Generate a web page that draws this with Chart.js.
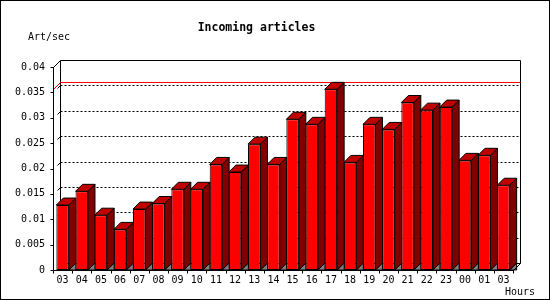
<!DOCTYPE html>
<html>
<head>
<meta charset="utf-8">
<script src="https://cdn.jsdelivr.net/npm/chart.js@4.4.0/dist/chart.umd.min.js"></script>
<style>
  body { margin: 0; background: #fff; }
  canvas { display: block; }
</style>
</head>
<body>
<canvas id="chart" width="550" height="300"></canvas>
<script>
// hour labels along the x axis (last one really says 03 in the original)
const hours = ['03', '04', '05', '06', '07', '08', '09', '10', '11', '12', '13', '14',
               '15', '16', '17', '18', '19', '20', '21', '22', '23', '00', '01', '03'];

// incoming articles per second
const artPerSec = [0.0128, 0.0155, 0.0108, 0.0080, 0.0120, 0.0131, 0.0159, 0.0159,
                   0.0208, 0.0193, 0.0248, 0.0208, 0.0297, 0.0287, 0.0356, 0.0212,
                   0.0287, 0.0277, 0.0330, 0.0315, 0.0321, 0.0216, 0.0226, 0.0167];

const yTickLabels = ['0', '0.005', '0.01', '0.015', '0.02', '0.025', '0.03', '0.035', '0.04'];

const FONT = 'DejaVu Sans Mono';
const DX = 7, DY = 7; // 3d depth offset

const line = (ctx, x1, y1, x2, y2) => {
  ctx.beginPath();
  ctx.moveTo(x1, y1);
  ctx.lineTo(x2, y2);
  ctx.stroke();
};

const poly = (ctx, pts, fill) => {
  ctx.beginPath();
  ctx.moveTo(pts[0][0], pts[0][1]);
  pts.slice(1).forEach(p => ctx.lineTo(p[0], p[1]));
  ctx.closePath();
  ctx.fillStyle = fill;
  ctx.fill();
  ctx.stroke();
};

const bars3d = {
  id: 'bars3d',
  beforeDraw(chart) {
    const ctx = chart.ctx;
    ctx.save();
    ctx.fillStyle = '#fff';
    ctx.fillRect(0, 0, chart.width, chart.height);
    ctx.restore();
  },
  beforeDatasetsDraw(chart) {
    const { ctx, chartArea: a, scales: { y } } = chart;
    const bl = a.left + DX + 0.5, bt = a.top - DY + 0.5;
    const br = a.right + DX + 0.5, bb = a.bottom - DY + 0.5;
    ctx.save();
    ctx.lineWidth = 1;
    ctx.strokeStyle = '#000';

    // dotted grid on the back wall
    ctx.setLineDash([2, 2]);
    y.ticks.forEach(t => {
      if (t.value <= 0 || t.value >= y.max - 1e-9) return;
      const py = Math.round(y.getPixelForValue(t.value)) - DY + 0.5;
      line(ctx, bl, py, br, py);
    });
    ctx.setLineDash([]);

    // back wall frame
    line(ctx, bl, bt, br, bt);
    line(ctx, bl, bt, bl, bb);
    line(ctx, br, bt, br, bb);
    line(ctx, bl, bb, br, bb);

    // small slanted marks from front axis to back wall
    y.ticks.forEach(t => {
      if (t.value <= 0 || t.value >= y.max - 1e-9) return;
      const py = Math.round(y.getPixelForValue(t.value)) + 0.5;
      line(ctx, bl - 3, py - DY + 3, bl, py - DY);
    });

    // max line in red
    const maxVal = Math.max(...artPerSec);
    const my = Math.round(y.getPixelForValue(maxVal)) + 0.5;
    ctx.strokeStyle = '#ff0000';
    line(ctx, a.left + 0.5, my, bl, my - DY);
    line(ctx, bl, my - DY, br, my - DY);
    ctx.restore();
  },
  afterDatasetsDraw(chart) {
    const { ctx, chartArea: a, scales: { y } } = chart;
    const meta = chart.getDatasetMeta(0);
    ctx.save();
    ctx.lineWidth = 1;
    ctx.strokeStyle = '#000';

    meta.data.forEach(bar => {
      const p = bar.getProps(['x', 'y', 'base', 'width'], true);
      const L = p.x - p.width / 2, R = p.x + p.width / 2;
      const top = p.y, base = p.base;
      // floor peeking out under the side
      poly(ctx, [[R, base], [R + DX, base - DY], [R + DX, base]], '#808080');
      // side face
      poly(ctx, [[R, top], [R + DX, top - DY], [R + DX, base - DY], [R, base]], '#800000');
      // top face
      poly(ctx, [[L, top], [L + DX, top - DY], [R + DX, top - DY], [R, top]], '#c00000');
    });

    // front axes
    const fx = a.left + 0.5, fb = a.bottom + 0.5;
    line(ctx, fx, a.top, fx, fb);
    line(ctx, fx, fb, a.right + 0.5, fb);
    // top-left and bottom-right corners of the box
    line(ctx, fx, a.top + 0.5, fx + DX, a.top - DY + 0.5);
    line(ctx, a.right + 0.5, fb, a.right + DX + 0.5, fb - DY);

    // y ticks
    y.ticks.forEach(t => {
      const py = Math.round(y.getPixelForValue(t.value)) + 0.5;
      line(ctx, fx - 3, py, fx, py);
    });
    // x ticks at category borders
    const n = hours.length;
    const cw = (a.right - a.left) / n;
    for (let i = 0; i <= n; i++) {
      const px = Math.round(a.left + i * cw) + 0.5;
      line(ctx, px, fb, px, fb + 3);
    }

    // axis titles
    ctx.fillStyle = '#000';
    ctx.font = '10px "' + FONT + '"';
    ctx.textBaseline = 'middle';
    ctx.textAlign = 'left';
    ctx.fillText('Art/sec', 28, 37);
    ctx.textAlign = 'right';
    ctx.fillText('Hours', 535, 292);

    // outer frame
    ctx.strokeRect(0.5, 0.5, chart.width - 1, chart.height - 1);
    ctx.restore();
  }
};

new Chart(document.getElementById('chart'), {
  type: 'bar',
  data: {
    labels: hours,
    datasets: [{
      label: 'Art/sec',
      data: artPerSec,
      backgroundColor: '#ff0000',
      borderColor: '#000',
      borderWidth: 1,
      borderSkipped: false,
      barPercentage: 0.65,
      categoryPercentage: 1.0
    }]
  },
  options: {
    responsive: false,
    animation: false,
    devicePixelRatio: 1,
    layout: { padding: { left: 0, right: 37, top: 0, bottom: 0 } },
    scales: {
      x: {
        grid: { display: false, drawTicks: false },
        border: { display: false },
        ticks: {
          autoSkip: false,
          maxRotation: 0,
          padding: 4,
          color: '#000',
          font: { family: FONT, size: 10 }
        },
        afterFit: scale => { scale.height = 30; }
      },
      y: {
        min: 0,
        max: 0.04,
        grid: { display: false, drawTicks: false },
        border: { display: false },
        ticks: {
          stepSize: 0.005,
          padding: 8,
          color: '#000',
          font: { family: FONT, size: 10 },
          callback: (v, i) => yTickLabels[i]
        },
        afterFit: scale => { scale.width = 53; }
      }
    },
    plugins: {
      legend: { display: false },
      tooltip: { enabled: false },
      title: {
        display: true,
        text: 'Incoming articles',
        color: '#000',
        font: { family: FONT, size: 11.5, weight: 'bold' },
        padding: { top: 21, bottom: 32.2 }
      }
    }
  },
  plugins: [bars3d]
});
</script>
</body>
</html>
